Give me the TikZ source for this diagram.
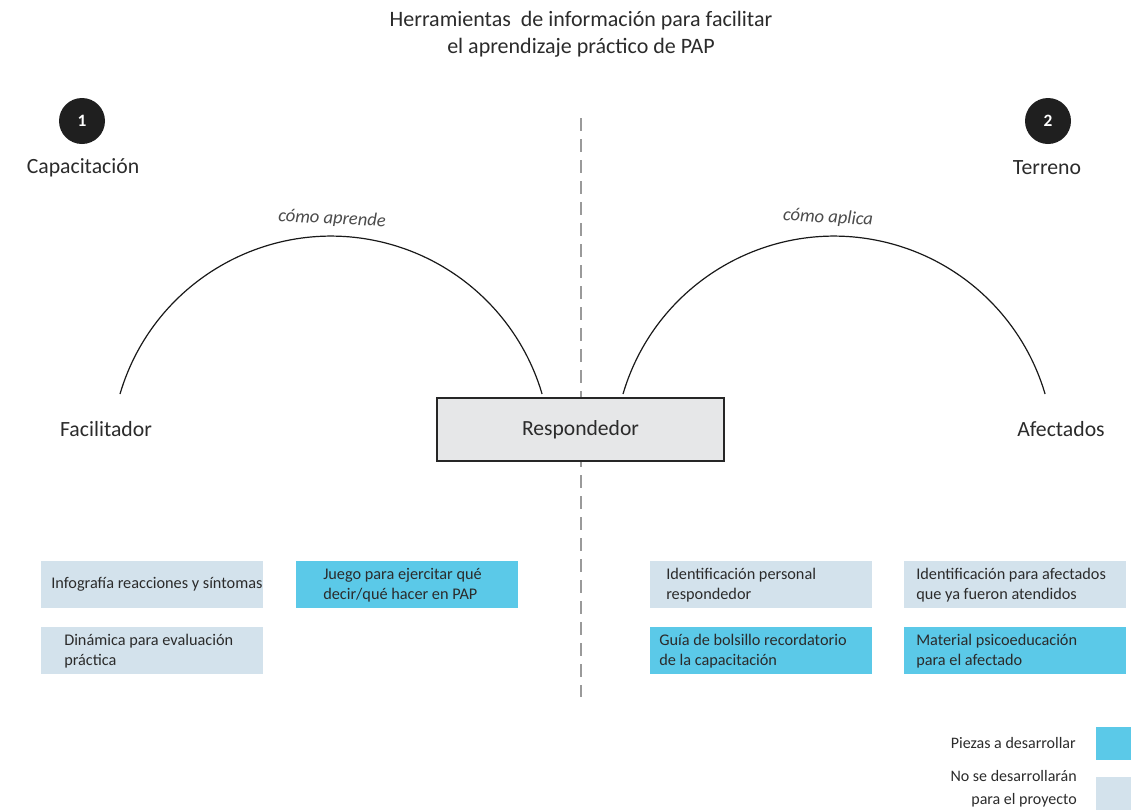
\documentclass[tikz,border=0pt]{standalone}
\usepackage{fontspec}
\setmainfont{Carlito}
\usetikzlibrary{calc}
\definecolor{txt}{HTML}{2B2B2B}
\definecolor{pale}{HTML}{D3E2EC}
\definecolor{sky}{HTML}{5BC9E8}
\definecolor{boxgray}{HTML}{E6E7E8}
\definecolor{dashgray}{HTML}{9A9A9A}
\tikzset{
  px/.style={x=0.75pt,y=-0.75pt},
  title/.style={text=txt,font=\fontsize{16.5pt}{20.25pt}\selectfont,align=center},
  head/.style={text=txt,font=\fontsize{16.3pt}{18pt}\selectfont},
  numdot/.style={circle,fill=black!88,minimum size=34.5pt,inner sep=0pt,text=white,font=\bfseries\fontsize{13pt}{14pt}\selectfont},
  hand/.style={text=txt!85,font=\itshape\fontsize{13.9pt}{15pt}\selectfont},
  arcline/.style={draw=black!90,line width=0.9pt},
  divider/.style={draw=dashgray,line width=1.5pt,dash pattern=on 9.75pt off 6pt},
  piece/.style={rectangle,draw=none,minimum width=166.5pt,minimum height=35.25pt,inner sep=0pt,anchor=north west},
  pale box/.style={piece,fill=pale},
  sky box/.style={piece,fill=sky},
  boxtext/.style={text=txt,font=\fontsize{12.2pt}{15pt}\selectfont,align=left,anchor=west,inner sep=0pt},
  legtext/.style={text=txt,font=\fontsize{12pt}{17pt}\selectfont,align=right,anchor=east,inner sep=0pt},
  legsq/.style={rectangle,draw=none,minimum width=26pt,minimum height=24.5pt,inner sep=0pt,anchor=north west},
  centerbox/.style={rectangle,draw=black!85,line width=1.1pt,fill=boxgray,minimum width=215pt,minimum height=47pt,inner sep=0pt,text=txt,font=\fontsize{16.2pt}{18pt}\selectfont}
}
\begin{document}
\begin{tikzpicture}[px]
\useasboundingbox (0,0) rectangle (1147,811);
% title
\node[title] (title) at (581,34) {Herramientas\ \ de información para facilitar\\el aprendizaje práctico de PAP};
% divider
\coordinate (dtop) at (581,118);
\coordinate (dbot) at (581,697);
\draw[divider] (dtop) -- (dbot);
% numbered headings
\node[numdot] (n1) at (82,121) {1};
\node[numdot] (n2) at (1048,121) {2};
\node[head] (cap) at (83,168) {Capacitación};
\node[head] (ter) at (1047,168) {Terreno};
% arcs
\coordinate (la) at (120,394);
\coordinate (ra) at (623,394);
\draw[arcline] (la) arc[start angle=-163.6,end angle=-16.4,radius=220];
\draw[arcline] (ra) arc[start angle=-163.6,end angle=-16.4,radius=220];
\node[hand,rotate=-3] (ap) at (332,219) {cómo aprende};
\node[hand,rotate=-3] (apl) at (828,218) {cómo aplica};
% actors
\node[head] (fac) at (106,429) {Facilitador};
\node[centerbox] (resp) at (580.5,429.5) {Respondedor};
\node[head] (afe) at (1061,429) {Afectados};
% pieces
\node[pale box] (b1) at (41,561) {};
\node[boxtext] at ($(b1.west)+(10,0)$) {Infografía reacciones y síntomas};
\node[pale box] (b2) at (41,627) {};
\node[boxtext] at ($(b2.west)+(23,0)$) {Dinámica para evaluación\\práctica};
\node[sky box] (b3) at (296,561) {};
\node[boxtext] at ($(b3.west)+(27,0)$) {Juego para ejercitar qué\\decir/qué hacer en PAP};
\node[pale box] (b4) at (650,561) {};
\node[boxtext] at ($(b4.west)+(16,0)$) {Identificación personal\\respondedor};
\node[sky box] (b5) at (650,627) {};
\node[boxtext] at ($(b5.west)+(9,0)$) {Guía de bolsillo recordatorio\\de la capacitación};
\node[pale box] (b6) at (904,561) {};
\node[boxtext] at ($(b6.west)+(12,0)$) {Identificación para afectados\\que ya fueron atendidos};
\node[sky box] (b7) at (904,627) {};
\node[boxtext] at ($(b7.west)+(12,0)$) {Material psicoeducación\\para el afectado};
% legend
\node[legsq,fill=sky] (l1) at (1096,727) {};
\node[legtext] at (1076,743) {Piezas a desarrollar};
\node[legsq,fill=pale] (l2) at (1096,777) {};
\node[legtext] at (1077,789) {No se desarrollarán\\para el proyecto};
\end{tikzpicture}
\end{document}
